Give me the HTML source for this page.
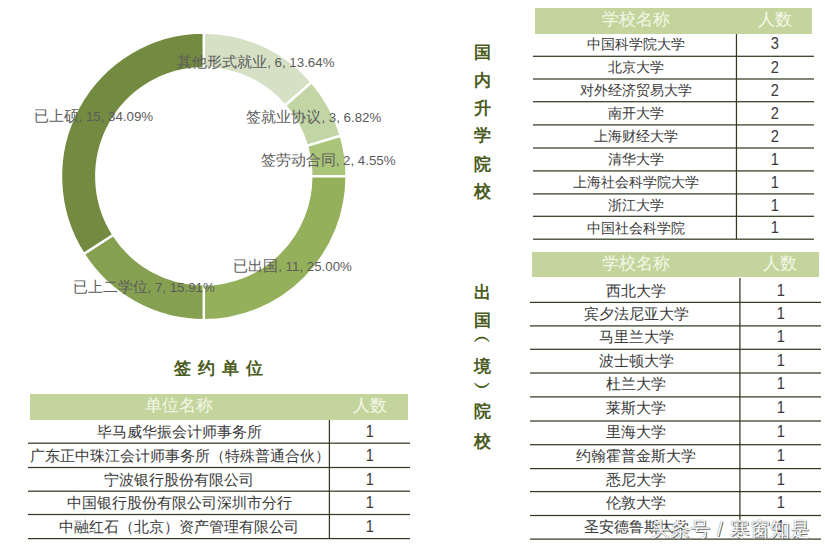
<!DOCTYPE html>
<html><head><meta charset="utf-8"><style>
html,body{margin:0;padding:0;background:#fff;}
body{width:825px;height:549px;position:relative;overflow:hidden;font-family:"Liberation Sans",sans-serif;}
.c{position:absolute;display:flex;align-items:center;justify-content:center;white-space:nowrap;line-height:1;}
.n{font-size:13.3px;}
.d{display:inline-block;transform:scaleX(.86);}
.lb{position:absolute;font-size:14.8px;color:#5c5c5c;white-space:nowrap;line-height:1;}
.vt{position:absolute;left:473px;width:18px;font-size:17px;font-weight:bold;color:#4a5b22;line-height:1;text-align:center;}
.tt{position:absolute;left:174px;top:360px;font-size:17px;font-weight:bold;color:#4a5b22;letter-spacing:7px;line-height:1;white-space:nowrap;}
.wm{position:absolute;top:519px;font-size:20px;color:#fff;white-space:nowrap;line-height:1;text-shadow:0 0 1px #555,1px 1px 0 #777;}
</style></head><body>
<svg style="position:absolute;left:0;top:0" width="825" height="549">
<g stroke="#fff" stroke-width="2.5" stroke-linejoin="miter">
<path fill="#d6e0c5" d="M203.80 32.45A142.85 143.85 0 0 1 311.76 82.10L285.01 105.54A107.45 108.05 0 0 0 203.80 68.25Z"/>
<path fill="#c2d5a4" d="M311.76 82.10A142.85 143.85 0 0 1 340.86 135.77L306.90 145.86A107.45 108.05 0 0 0 285.01 105.54Z"/>
<path fill="#aac47a" d="M340.86 135.77A142.85 143.85 0 0 1 346.65 176.30L311.25 176.30A107.45 108.05 0 0 0 306.90 145.86Z"/>
<path fill="#95b05a" d="M346.65 176.30A142.85 143.85 0 0 1 203.80 320.15L203.80 284.35A107.45 108.05 0 0 0 311.25 176.30Z"/>
<path fill="#84a050" d="M203.80 320.15A142.85 143.85 0 0 1 83.63 254.07L113.41 234.72A107.45 108.05 0 0 0 203.80 284.35Z"/>
<path fill="#738b40" d="M83.63 254.07A142.85 143.85 0 0 1 203.80 32.45L203.80 68.25A107.45 108.05 0 0 0 113.41 234.72Z"/>
</g></svg>
<div class="lb" style="left:177.2px;top:55.3px">其他形式就业<span class="n">, 6, 13.64%</span></div>
<div class="lb" style="left:246.4px;top:110px">签就业协议<span class="n">, 3, 6.82%</span></div>
<div class="lb" style="left:260.7px;top:152.6px">签劳动合同<span class="n">, 2, 4.55%</span></div>
<div class="lb" style="left:233.2px;top:259px">已出国<span class="n">, 11, 25.00%</span></div>
<div class="lb" style="left:72.5px;top:279.7px">已上二学位<span class="n">, 7, 15.91%</span></div>
<div class="lb" style="left:33.5px;top:109.3px">已上硕<span class="n">, 15, 34.09%</span></div>
<div class="vt" style="top:44px">国</div>
<div class="vt" style="top:72px">内</div>
<div class="vt" style="top:100px">升</div>
<div class="vt" style="top:127px">学</div>
<div class="vt" style="top:155.7px">院</div>
<div class="vt" style="top:183.3px">校</div>
<div class="vt" style="top:284px">出</div>
<div class="vt" style="top:312px">国</div>
<div class="vt" style="top:327.5px">︵</div>
<div class="vt" style="top:357.8px">境</div>
<div class="vt" style="top:378.8px">︶</div>
<div class="vt" style="top:402.8px">院</div>
<div class="vt" style="top:432.9px">校</div>
<div class="tt">签约单位</div>
<div style="position:absolute;left:535px;top:8px;width:277.29999999999995px;height:25.5px;background:#c3d59d"></div>
<div class="c" style="left:535px;top:6.5px;width:201.45000000000005px;height:25.5px;font-size:16.5px;color:#f3f7e6;">学校名称</div>
<div class="c" style="left:736.45px;top:6.5px;width:77.54999999999995px;height:25.5px;font-size:16.5px;color:#f3f7e6;">人数</div>
<div style="position:absolute;left:533px;top:55px;width:281px;height:1px;background:#323c22;opacity:0.33"></div>
<div style="position:absolute;left:533px;top:56px;width:281px;height:1px;background:#323c22;opacity:0.92"></div>
<div class="c" style="left:535px;top:32.5px;width:201.45000000000005px;height:22.799999999999997px;font-size:14.4px;color:#3a3a3a;">中国科学院大学</div>
<div class="c" style="left:736.45px;top:32.5px;width:77.54999999999995px;height:22.799999999999997px;font-size:17px;color:#3a3a3a;"><span class="d">3</span></div>
<div style="position:absolute;left:533px;top:78px;width:281px;height:1px;background:#323c22;opacity:0.62"></div>
<div style="position:absolute;left:533px;top:79px;width:281px;height:1px;background:#323c22;opacity:0.62"></div>
<div class="c" style="left:535px;top:56.3px;width:201.45000000000005px;height:22.700000000000003px;font-size:14.4px;color:#3a3a3a;">北京大学</div>
<div class="c" style="left:736.45px;top:56.3px;width:77.54999999999995px;height:22.700000000000003px;font-size:17px;color:#3a3a3a;"><span class="d">2</span></div>
<div style="position:absolute;left:533px;top:101px;width:281px;height:1px;background:#323c22;opacity:0.92"></div>
<div style="position:absolute;left:533px;top:102px;width:281px;height:1px;background:#323c22;opacity:0.33"></div>
<div class="c" style="left:535px;top:79.0px;width:201.45000000000005px;height:22.700000000000003px;font-size:14.4px;color:#3a3a3a;">对外经济贸易大学</div>
<div class="c" style="left:736.45px;top:79.0px;width:77.54999999999995px;height:22.700000000000003px;font-size:17px;color:#3a3a3a;"><span class="d">2</span></div>
<div style="position:absolute;left:533px;top:124px;width:281px;height:1px;background:#323c22;opacity:0.72"></div>
<div style="position:absolute;left:533px;top:125px;width:281px;height:1px;background:#323c22;opacity:0.53"></div>
<div class="c" style="left:535px;top:101.7px;width:201.45000000000005px;height:23.200000000000003px;font-size:14.4px;color:#3a3a3a;">南开大学</div>
<div class="c" style="left:736.45px;top:101.7px;width:77.54999999999995px;height:23.200000000000003px;font-size:17px;color:#3a3a3a;"><span class="d">2</span></div>
<div style="position:absolute;left:533px;top:147px;width:281px;height:1px;background:#323c22;opacity:0.62"></div>
<div style="position:absolute;left:533px;top:148px;width:281px;height:1px;background:#323c22;opacity:0.62"></div>
<div class="c" style="left:535px;top:124.9px;width:201.45000000000005px;height:23.099999999999994px;font-size:14.4px;color:#3a3a3a;">上海财经大学</div>
<div class="c" style="left:736.45px;top:124.9px;width:77.54999999999995px;height:23.099999999999994px;font-size:17px;color:#3a3a3a;"><span class="d">2</span></div>
<div style="position:absolute;left:533px;top:170px;width:281px;height:1px;background:#323c22;opacity:0.72"></div>
<div style="position:absolute;left:533px;top:171px;width:281px;height:1px;background:#323c22;opacity:0.53"></div>
<div class="c" style="left:535px;top:148.0px;width:201.45000000000005px;height:22.900000000000006px;font-size:14.4px;color:#3a3a3a;">清华大学</div>
<div class="c" style="left:736.45px;top:148.0px;width:77.54999999999995px;height:22.900000000000006px;font-size:17px;color:#3a3a3a;"><span class="d">1</span></div>
<div style="position:absolute;left:533px;top:193px;width:281px;height:1px;background:#323c22;opacity:0.72"></div>
<div style="position:absolute;left:533px;top:194px;width:281px;height:1px;background:#323c22;opacity:0.53"></div>
<div class="c" style="left:535px;top:170.9px;width:201.45000000000005px;height:23.0px;font-size:14.4px;color:#3a3a3a;">上海社会科学院大学</div>
<div class="c" style="left:736.45px;top:170.9px;width:77.54999999999995px;height:23.0px;font-size:17px;color:#3a3a3a;"><span class="d">1</span></div>
<div style="position:absolute;left:533px;top:215px;width:281px;height:1px;background:#323c22;opacity:0.32"></div>
<div style="position:absolute;left:533px;top:216px;width:281px;height:1px;background:#323c22;opacity:0.93"></div>
<div class="c" style="left:535px;top:193.9px;width:201.45000000000005px;height:22.400000000000006px;font-size:14.4px;color:#3a3a3a;">浙江大学</div>
<div class="c" style="left:736.45px;top:193.9px;width:77.54999999999995px;height:22.400000000000006px;font-size:17px;color:#3a3a3a;"><span class="d">1</span></div>
<div style="position:absolute;left:533px;top:238px;width:281px;height:1px;background:#323c22;opacity:0.43"></div>
<div style="position:absolute;left:533px;top:239px;width:281px;height:1px;background:#323c22;opacity:0.82"></div>
<div class="c" style="left:535px;top:216.3px;width:201.45000000000005px;height:22.899999999999977px;font-size:14.4px;color:#3a3a3a;">中国社会科学院</div>
<div class="c" style="left:736.45px;top:216.3px;width:77.54999999999995px;height:22.899999999999977px;font-size:17px;color:#3a3a3a;"><span class="d">1</span></div>
<div style="position:absolute;left:735px;top:33.5px;width:1px;height:205.7px;background:#323c22;opacity:0.17"></div>
<div style="position:absolute;left:736px;top:33.5px;width:1px;height:205.7px;background:#323c22;opacity:1.00"></div>
<div style="position:absolute;left:737px;top:33.5px;width:1px;height:205.7px;background:#323c22;opacity:0.08"></div>
<div style="position:absolute;left:531.6px;top:252.4px;width:287.4px;height:25.099999999999994px;background:#c3d59d"></div>
<div class="c" style="left:531.6px;top:250.9px;width:208.29999999999995px;height:25.099999999999994px;font-size:16.5px;color:#f3f7e6;">学校名称</div>
<div class="c" style="left:739.9px;top:250.9px;width:80.70000000000005px;height:25.099999999999994px;font-size:16.5px;color:#f3f7e6;">人数</div>
<div style="position:absolute;left:530px;top:301px;width:290.6px;height:1px;background:#323c22;opacity:0.23"></div>
<div style="position:absolute;left:530px;top:302px;width:290.6px;height:1px;background:#323c22;opacity:1.00"></div>
<div style="position:absolute;left:530px;top:303px;width:290.6px;height:1px;background:#323c22;opacity:0.02"></div>
<div class="c" style="left:532.1px;top:278.0px;width:208.29999999999995px;height:24.899999999999977px;font-size:15px;color:#3a3a3a;">西北大学</div>
<div class="c" style="left:739.9px;top:278.0px;width:80.70000000000005px;height:24.899999999999977px;font-size:17px;color:#3a3a3a;"><span class="d">1</span></div>
<div style="position:absolute;left:530px;top:325px;width:290.6px;height:1px;background:#323c22;opacity:0.73"></div>
<div style="position:absolute;left:530px;top:326px;width:290.6px;height:1px;background:#323c22;opacity:0.52"></div>
<div class="c" style="left:532.1px;top:301.4px;width:208.29999999999995px;height:23.5px;font-size:15px;color:#3a3a3a;">宾夕法尼亚大学</div>
<div class="c" style="left:739.9px;top:301.4px;width:80.70000000000005px;height:23.5px;font-size:17px;color:#3a3a3a;"><span class="d">1</span></div>
<div style="position:absolute;left:530px;top:348px;width:290.6px;height:1px;background:#323c22;opacity:0.32"></div>
<div style="position:absolute;left:530px;top:349px;width:290.6px;height:1px;background:#323c22;opacity:0.93"></div>
<div class="c" style="left:532.1px;top:324.9px;width:208.29999999999995px;height:23.400000000000034px;font-size:15px;color:#3a3a3a;">马里兰大学</div>
<div class="c" style="left:739.9px;top:324.9px;width:80.70000000000005px;height:23.400000000000034px;font-size:17px;color:#3a3a3a;"><span class="d">1</span></div>
<div style="position:absolute;left:530px;top:372px;width:290.6px;height:1px;background:#323c22;opacity:0.62"></div>
<div style="position:absolute;left:530px;top:373px;width:290.6px;height:1px;background:#323c22;opacity:0.62"></div>
<div class="c" style="left:532.1px;top:348.3px;width:208.29999999999995px;height:23.69999999999999px;font-size:15px;color:#3a3a3a;">波士顿大学</div>
<div class="c" style="left:739.9px;top:348.3px;width:80.70000000000005px;height:23.69999999999999px;font-size:17px;color:#3a3a3a;"><span class="d">1</span></div>
<div style="position:absolute;left:530px;top:396px;width:290.6px;height:1px;background:#323c22;opacity:0.73"></div>
<div style="position:absolute;left:530px;top:397px;width:290.6px;height:1px;background:#323c22;opacity:0.52"></div>
<div class="c" style="left:532.1px;top:372.0px;width:208.29999999999995px;height:23.899999999999977px;font-size:15px;color:#3a3a3a;">杜兰大学</div>
<div class="c" style="left:739.9px;top:372.0px;width:80.70000000000005px;height:23.899999999999977px;font-size:17px;color:#3a3a3a;"><span class="d">1</span></div>
<div style="position:absolute;left:530px;top:420px;width:290.6px;height:1px;background:#323c22;opacity:0.62"></div>
<div style="position:absolute;left:530px;top:421px;width:290.6px;height:1px;background:#323c22;opacity:0.62"></div>
<div class="c" style="left:532.1px;top:395.9px;width:208.29999999999995px;height:24.100000000000023px;font-size:15px;color:#3a3a3a;">莱斯大学</div>
<div class="c" style="left:739.9px;top:395.9px;width:80.70000000000005px;height:24.100000000000023px;font-size:17px;color:#3a3a3a;"><span class="d">1</span></div>
<div style="position:absolute;left:530px;top:444px;width:290.6px;height:1px;background:#323c22;opacity:0.93"></div>
<div style="position:absolute;left:530px;top:445px;width:290.6px;height:1px;background:#323c22;opacity:0.32"></div>
<div class="c" style="left:532.1px;top:420.0px;width:208.29999999999995px;height:23.69999999999999px;font-size:15px;color:#3a3a3a;">里海大学</div>
<div class="c" style="left:739.9px;top:420.0px;width:80.70000000000005px;height:23.69999999999999px;font-size:17px;color:#3a3a3a;"><span class="d">1</span></div>
<div style="position:absolute;left:530px;top:467px;width:290.6px;height:1px;background:#323c22;opacity:0.02"></div>
<div style="position:absolute;left:530px;top:468px;width:290.6px;height:1px;background:#323c22;opacity:1.00"></div>
<div style="position:absolute;left:530px;top:469px;width:290.6px;height:1px;background:#323c22;opacity:0.23"></div>
<div class="c" style="left:532.1px;top:443.7px;width:208.29999999999995px;height:23.900000000000034px;font-size:15px;color:#3a3a3a;">约翰霍普金斯大学</div>
<div class="c" style="left:739.9px;top:443.7px;width:80.70000000000005px;height:23.900000000000034px;font-size:17px;color:#3a3a3a;"><span class="d">1</span></div>
<div style="position:absolute;left:530px;top:490px;width:290.6px;height:1px;background:#323c22;opacity:0.02"></div>
<div style="position:absolute;left:530px;top:491px;width:290.6px;height:1px;background:#323c22;opacity:1.00"></div>
<div style="position:absolute;left:530px;top:492px;width:290.6px;height:1px;background:#323c22;opacity:0.23"></div>
<div class="c" style="left:532.1px;top:467.6px;width:208.29999999999995px;height:23.0px;font-size:15px;color:#3a3a3a;">悉尼大学</div>
<div class="c" style="left:739.9px;top:467.6px;width:80.70000000000005px;height:23.0px;font-size:17px;color:#3a3a3a;"><span class="d">1</span></div>
<div style="position:absolute;left:530px;top:514px;width:290.6px;height:1px;background:#323c22;opacity:0.12"></div>
<div style="position:absolute;left:530px;top:515px;width:290.6px;height:1px;background:#323c22;opacity:1.00"></div>
<div style="position:absolute;left:530px;top:516px;width:290.6px;height:1px;background:#323c22;opacity:0.12"></div>
<div class="c" style="left:532.1px;top:490.6px;width:208.29999999999995px;height:23.899999999999977px;font-size:15px;color:#3a3a3a;">伦敦大学</div>
<div class="c" style="left:739.9px;top:490.6px;width:80.70000000000005px;height:23.899999999999977px;font-size:17px;color:#3a3a3a;"><span class="d">1</span></div>
<div style="position:absolute;left:530px;top:538px;width:290.6px;height:1px;background:#323c22;opacity:0.52"></div>
<div style="position:absolute;left:530px;top:539px;width:290.6px;height:1px;background:#323c22;opacity:0.73"></div>
<div class="c" style="left:532.1px;top:514.5px;width:208.29999999999995px;height:23.600000000000023px;font-size:15px;color:#3a3a3a;">圣安德鲁斯大学</div>
<div class="c" style="left:739.9px;top:514.5px;width:80.70000000000005px;height:23.600000000000023px;font-size:17px;color:#3a3a3a;"><span class="d">1</span></div>
<div style="position:absolute;left:739px;top:277.5px;width:1px;height:261.6px;background:#323c22;opacity:0.73"></div>
<div style="position:absolute;left:740px;top:277.5px;width:1px;height:261.6px;background:#323c22;opacity:0.52"></div>
<div style="position:absolute;left:29.6px;top:393.6px;width:378.4px;height:26.099999999999966px;background:#c3d59d"></div>
<div class="c" style="left:29.6px;top:392.1px;width:299.79999999999995px;height:26.099999999999966px;font-size:16.5px;color:#f3f7e6;">单位名称</div>
<div class="c" style="left:329.4px;top:392.1px;width:80.60000000000002px;height:26.099999999999966px;font-size:16.5px;color:#f3f7e6;">人数</div>
<div style="position:absolute;left:27.7px;top:442px;width:382.3px;height:1px;background:#323c22;opacity:0.43"></div>
<div style="position:absolute;left:27.7px;top:443px;width:382.3px;height:1px;background:#323c22;opacity:0.82"></div>
<div class="c" style="left:29.6px;top:419.7px;width:299.79999999999995px;height:23.5px;font-size:15px;color:#3a3a3a;">毕马威华振会计师事务所</div>
<div class="c" style="left:329.4px;top:419.7px;width:80.60000000000002px;height:23.5px;font-size:17px;color:#3a3a3a;"><span class="d">1</span></div>
<div style="position:absolute;left:27.7px;top:466px;width:382.3px;height:1px;background:#323c22;opacity:0.12"></div>
<div style="position:absolute;left:27.7px;top:467px;width:382.3px;height:1px;background:#323c22;opacity:1.00"></div>
<div style="position:absolute;left:27.7px;top:468px;width:382.3px;height:1px;background:#323c22;opacity:0.12"></div>
<div class="c" style="left:29.6px;top:443.2px;width:299.79999999999995px;height:24.30000000000001px;font-size:15px;color:#3a3a3a;">广东正中珠江会计师事务所（特殊普通合伙）</div>
<div class="c" style="left:329.4px;top:443.2px;width:80.60000000000002px;height:24.30000000000001px;font-size:17px;color:#3a3a3a;"><span class="d">1</span></div>
<div style="position:absolute;left:27.7px;top:490px;width:382.3px;height:1px;background:#323c22;opacity:0.43"></div>
<div style="position:absolute;left:27.7px;top:491px;width:382.3px;height:1px;background:#323c22;opacity:0.82"></div>
<div class="c" style="left:29.6px;top:467.5px;width:299.79999999999995px;height:23.69999999999999px;font-size:15px;color:#3a3a3a;">宁波银行股份有限公司</div>
<div class="c" style="left:329.4px;top:467.5px;width:80.60000000000002px;height:23.69999999999999px;font-size:17px;color:#3a3a3a;"><span class="d">1</span></div>
<div style="position:absolute;left:27.7px;top:513px;width:382.3px;height:1px;background:#323c22;opacity:0.12"></div>
<div style="position:absolute;left:27.7px;top:514px;width:382.3px;height:1px;background:#323c22;opacity:1.00"></div>
<div style="position:absolute;left:27.7px;top:515px;width:382.3px;height:1px;background:#323c22;opacity:0.12"></div>
<div class="c" style="left:29.6px;top:491.2px;width:299.79999999999995px;height:23.30000000000001px;font-size:15px;color:#3a3a3a;">中国银行股份有限公司深圳市分行</div>
<div class="c" style="left:329.4px;top:491.2px;width:80.60000000000002px;height:23.30000000000001px;font-size:17px;color:#3a3a3a;"><span class="d">1</span></div>
<div style="position:absolute;left:27.7px;top:537px;width:382.3px;height:1px;background:#323c22;opacity:0.02"></div>
<div style="position:absolute;left:27.7px;top:538px;width:382.3px;height:1px;background:#323c22;opacity:1.00"></div>
<div style="position:absolute;left:27.7px;top:539px;width:382.3px;height:1px;background:#323c22;opacity:0.23"></div>
<div class="c" style="left:29.6px;top:514.5px;width:299.79999999999995px;height:24.100000000000023px;font-size:15px;color:#3a3a3a;">中融红石（北京）资产管理有限公司</div>
<div class="c" style="left:329.4px;top:514.5px;width:80.60000000000002px;height:24.100000000000023px;font-size:17px;color:#3a3a3a;"><span class="d">1</span></div>
<div style="position:absolute;left:328px;top:419.7px;width:1px;height:118.90000000000003px;background:#323c22;opacity:0.23"></div>
<div style="position:absolute;left:329px;top:419.7px;width:1px;height:118.90000000000003px;background:#323c22;opacity:1.00"></div>
<div style="position:absolute;left:330px;top:419.7px;width:1px;height:118.90000000000003px;background:#323c22;opacity:0.02"></div>
<div class="wm" style="left:650px">头条号</div><div class="wm" style="left:717px;font-family:'Liberation Sans',sans-serif">/</div><div class="wm" style="left:730px">寒窗知是</div>
</body></html>
